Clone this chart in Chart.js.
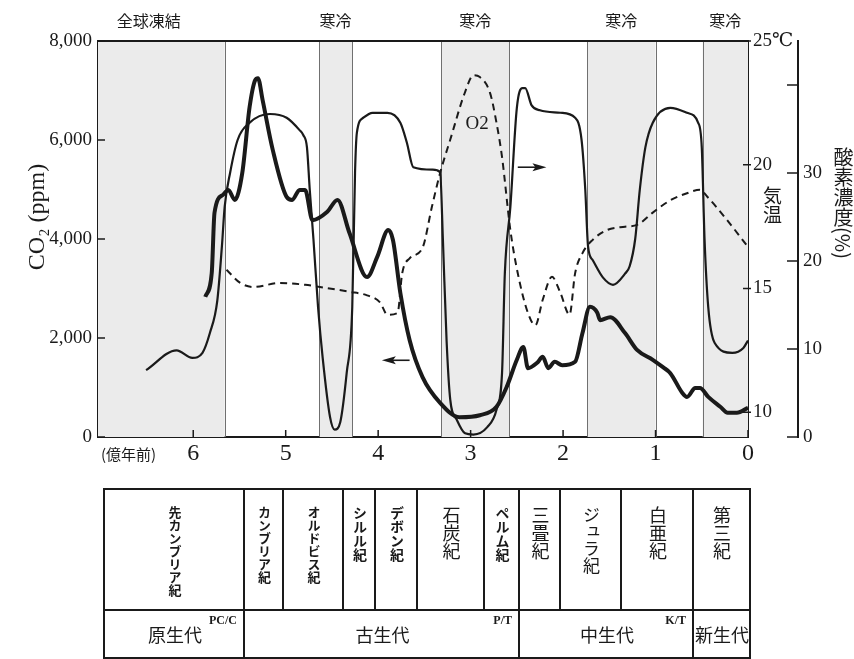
<!DOCTYPE html>
<html lang="ja">
<head>
<meta charset="utf-8">
<title>CO2・気温・酸素濃度の変遷</title>
<script src="https://cdn.jsdelivr.net/npm/chart.js@4.4.1/dist/chart.umd.min.js"></script>
<style>
  body { margin: 0; background: #fff; }
  #wrap { position: relative; width: 854px; height: 659px; overflow: hidden;
          font-family: "Noto Sans CJK JP", sans-serif; color: #1a1a1a; }
  #chart { position: absolute; left: 0; top: 0; }
  .vt { position: absolute; writing-mode: vertical-rl; line-height: 1; white-space: nowrap; }
  .cell { position: absolute; box-sizing: border-box; border-left: 2px solid #1a1a1a; border-top: 2px solid #1a1a1a; }
  .era { display: flex; align-items: center; justify-content: center; font-size: 18px; }
  .code { position: absolute; font-family: "Liberation Serif", serif; font-weight: bold; font-size: 12px; }
</style>
</head>
<body>
<div id="wrap">
  <canvas id="chart" width="854" height="480"></canvas>
  <div class="vt" style="left:763px;top:186px;font-size:19px;">気温</div>
  <div class="vt" style="left:833px;top:147px;font-size:20px;">酸素濃度(%)</div>
  <div style="position:absolute;left:101px;top:443px;font-size:15px;">(億年前)</div>
  <div id="geo"></div>
</div>
<script>
// ages in 100 million years (億年前)
const tempAge = [6.51, 6.18, 6.01, 5.9, 5.82, 5.74, 5.69, 5.66, 5.6, 5.52, 5.39, 5.17, 4.99, 4.85, 4.81, 4.77, 4.74, 4.7, 4.65, 4.6,
  4.52, 4.47, 4.41, 4.34, 4.28, 4.25, 4.23, 4.16, 4.06, 3.9, 3.76, 3.69, 3.62, 3.41, 3.33, 3.3, 3.26, 3.22, 3.15, 3.06,
  2.97, 2.82, 2.72, 2.66, 2.63, 2.57, 2.5, 2.44, 2.41, 2.34, 2.25, 2.03, 1.87, 1.8, 1.76, 1.73, 1.68, 1.57, 1.46, 1.33,
  1.28, 1.22, 1.17, 1.11, 1.03, 0.84, 0.66, 0.54, 0.5, 0.47, 0.43, 0.36, 0.17, 0.05, 0];
const tempC = [11.7, 12.5, 12.2, 12.4, 13.2, 14.5, 16.7, 18.3, 19.7, 21.0, 21.7, 22.05, 21.9, 21.4, 21.2, 20.7, 19.0, 17.0, 14.25, 12.2,
  9.8, 9.3, 9.6, 11.6, 14.25, 19.7, 21.3, 21.9, 22.1, 22.1, 21.7, 20.9, 19.9, 19.8, 19.7, 17.0, 12.9, 10.5, 9.7, 9.15,
  9.1, 9.4, 10.1, 11.6, 15.6, 18.3, 22.3, 23.1, 23.1, 22.4, 22.2, 22.1, 21.9, 21.0, 19.0, 16.7, 16.15, 15.45, 15.15, 15.6,
  15.9, 17.0, 19.0, 20.7, 21.7, 22.3, 22.1, 21.7, 20.7, 17.0, 14.25, 12.8, 12.4, 12.6, 12.9];

const co2Age = [5.87, 5.8, 5.77, 5.68, 5.62, 5.55, 5.47, 5.39, 5.33, 5.3, 5.25, 5.14, 4.99, 4.93, 4.85, 4.79, 4.71, 4.55, 4.44, 4.31,
  4.12, 4.01, 3.89, 3.84, 3.76, 3.66, 3.52, 3.33, 3.12, 2.9, 2.72, 2.61, 2.5, 2.43, 2.38, 2.28, 2.22, 2.16, 2.09, 2.01,
  1.87, 1.79, 1.71, 1.63, 1.6, 1.49, 1.33, 1.2, 1.03, 0.92, 0.84, 0.71, 0.66, 0.57, 0.52, 0.43, 0.3, 0.22, 0.12, 0];
const co2Ppm = [2830, 3310, 4530, 4890, 4990, 4790, 5330, 6670, 7210, 7250, 6810, 5800, 4850, 4790, 4990, 4990, 4380, 4550, 4790, 4120,
  3230, 3640, 4180, 3980, 2910, 1960, 1210, 690, 400, 440, 610, 1010, 1560, 1820, 1390, 1500, 1620, 1390, 1520, 1450,
  1520, 2100, 2630, 2510, 2360, 2420, 2100, 1760, 1560, 1410, 1290, 890, 810, 990, 990, 810, 610, 490, 490, 590];

const o2Age = [5.64, 5.49, 5.35, 5.06, 4.79, 4.63, 4.31, 4.12, 3.98, 3.9, 3.79, 3.74, 3.66, 3.52, 3.42, 3.33, 3.22, 3.06, 2.97, 2.9,
  2.79, 2.72, 2.66, 2.57, 2.49, 2.38, 2.3, 2.22, 2.12, 2.03, 1.93, 1.87, 1.79, 1.68, 1.53, 1.33, 1.2, 1.03, 0.84, 0.66,
  0.52, 0.44, 0.23, 0];
const o2Pct = [19.0, 17.5, 17.05, 17.5, 17.3, 17.05, 16.5, 16.1, 15.3, 13.9, 14.1, 18.6, 20.3, 21.5, 26.1, 30.0, 33.8, 39.2, 41.1, 40.9,
  39.1, 35.7, 31.8, 23.5, 18.6, 14.1, 12.7, 15.6, 18.2, 16.4, 13.9, 18.6, 20.9, 22.4, 23.5, 23.9, 24.1, 25.5, 26.9, 27.7,
  28.1, 27.3, 24.7, 21.6];

// cold periods (shaded) and their labels
const coldBands = [[7.03, 5.66], [4.64, 4.28], [3.32, 2.58], [1.74, 1.0], [0.49, 0]];
const coldLabels = ['全球凍結', '寒冷', '寒冷', '寒冷', '寒冷'];
const coldLabelAge = [6.48, 4.46, 2.95, 1.37, 0.245];

const xTicks = [0, 1, 2, 3, 4, 5, 6];
const co2Ticks = [0, 2000, 4000, 6000, 8000];
const tempTicks = [10, 15, 20, 25];
const o2Ticks = [0, 10, 20, 30, 40];

// geologic time table
const periodNames = ['先カンブリア紀', 'カンブリア紀', 'オルドビス紀', 'シルル紀', 'デボン紀', '石炭紀', 'ペルム紀', '三畳紀', 'ジュラ紀', '白亜紀', '第三紀'];
const periodEdges = [6.98, 5.46, 5.04, 4.39, 4.04, 3.59, 2.87, 2.49, 2.04, 1.38, 0.61, 0];
const eraNames = ['原生代', '古生代', '中生代', '新生代'];
const eraEdges = [6.98, 5.46, 2.49, 0.61, 0];
const eraCodes = ['PC/C', 'P/T', 'K/T'];

const serif = '"Liberation Serif", "DejaVu Serif", serif';
const cjk = '"Noto Sans CJK JP", sans-serif';
const ink = '#1a1a1a';

const pts = (xs, ys) => xs.map((v, i) => ({ x: v, y: ys[i] }));

function seg(ctx, x1, y1, x2, y2) {
  ctx.beginPath(); ctx.moveTo(x1, y1); ctx.lineTo(x2, y2); ctx.stroke();
}
function arrow(ctx, x1, y, x2) {
  const d = Math.sign(x2 - x1);
  seg(ctx, x1, y, x2 - d * 6, y);
  ctx.beginPath();
  ctx.moveTo(x2, y); ctx.lineTo(x2 - d * 14, y - 4); ctx.lineTo(x2 - d * 11, y); ctx.lineTo(x2 - d * 14, y + 4);
  ctx.closePath(); ctx.fill();
}

const decor = {
  id: 'decor',
  beforeDatasetsDraw(chart) {
    const { ctx, chartArea: a, scales: { x } } = chart;
    ctx.save();
    ctx.fillStyle = '#ebebeb';
    coldBands.forEach(([from, to]) => {
      const x1 = x.getPixelForValue(from), x2 = x.getPixelForValue(to);
      ctx.fillRect(Math.min(x1, x2), a.top, Math.abs(x2 - x1), a.bottom - a.top);
    });
    ctx.strokeStyle = '#707070';
    ctx.lineWidth = 1;
    coldBands.flat().filter(v => v > 0 && v < 7).forEach(v => {
      const px = Math.round(x.getPixelForValue(v)) + 0.5;
      seg(ctx, px, a.top, px, a.bottom);
    });
    ctx.restore();
  },
  afterDraw(chart) {
    const { ctx, chartArea: a, scales: { x, y, yT, yO } } = chart;
    ctx.save();
    ctx.strokeStyle = ink; ctx.fillStyle = ink;
    ctx.lineWidth = 2;
    seg(ctx, a.left - 1, a.top, a.right + 1, a.top);
    // inward tick marks
    ctx.lineWidth = 1.5;
    x.ticks.forEach(t => { const p = x.getPixelForValue(t.value); seg(ctx, p, a.bottom, p, a.bottom - 7); });
    y.ticks.forEach(t => { const p = y.getPixelForValue(t.value); seg(ctx, a.left, p, a.left + 7, p); });
    yT.ticks.forEach(t => { const p = yT.getPixelForValue(t.value); seg(ctx, a.right - 5, p, a.right + 3, p); });
    yO.ticks.forEach(t => { const p = yO.getPixelForValue(t.value); seg(ctx, yO.left, p, yO.left - 11, p); });
    // CO2 axis title
    ctx.save();
    ctx.translate(38, 217);
    ctx.rotate(-Math.PI / 2);
    ctx.font = '24px ' + serif;
    ctx.textAlign = 'center'; ctx.textBaseline = 'middle';
    ctx.fillText('CO₂ (ppm)', 0, 0);
    ctx.restore();
    // cold period labels
    ctx.font = '16px ' + cjk;
    ctx.textAlign = 'center'; ctx.textBaseline = 'middle';
    coldLabels.forEach((s, i) => ctx.fillText(s, x.getPixelForValue(coldLabelAge[i]), 21));
    // O2 label and axis arrows
    ctx.font = '19px ' + serif;
    ctx.fillText('O2', x.getPixelForValue(2.93), yO.getPixelForValue(35.6));
    ctx.lineWidth = 1.6;
    arrow(ctx, x.getPixelForValue(2.49), yT.getPixelForValue(19.9), x.getPixelForValue(2.18));
    arrow(ctx, x.getPixelForValue(3.66), y.getPixelForValue(1550), x.getPixelForValue(3.96));
    ctx.restore();
  }
};

const axisBase = {
  grid: { display: true, drawOnChartArea: false, drawTicks: false },
  border: { display: true, color: ink, width: 2 }
};

const chart = new Chart(document.getElementById('chart'), {
  type: 'line',
  data: {
    datasets: [
      { label: 'CO2', data: pts(co2Age, co2Ppm), yAxisID: 'y', borderColor: ink, borderWidth: 4 },
      { label: '気温', data: pts(tempAge, tempC), yAxisID: 'yT', borderColor: ink, borderWidth: 2.2 },
      { label: 'O2', data: pts(o2Age, o2Pct), yAxisID: 'yO', borderColor: ink, borderWidth: 2, borderDash: [7, 5] }
    ]
  },
  options: {
    responsive: false,
    animation: false,
    layout: { padding: { top: 41, left: 0, right: 0, bottom: 0 } },
    elements: { point: { radius: 0 }, line: { cubicInterpolationMode: 'monotone' } },
    plugins: { legend: { display: false }, tooltip: { enabled: false } },
    scales: {
      x: {
        ...axisBase,
        type: 'linear', reverse: true, min: 0, max: 7.03,
        afterBuildTicks: s => { s.ticks = xTicks.map(v => ({ value: v })); },
        afterFit: s => { s.height = 43; },
        ticks: { font: { family: serif, size: 24 }, color: ink, padding: 2, maxRotation: 0, autoSkip: false }
      },
      y: {
        ...axisBase,
        position: 'left', min: 0, max: 8000,
        afterBuildTicks: s => { s.ticks = co2Ticks.map(v => ({ value: v })); },
        afterFit: s => { s.width = 98; },
        ticks: { font: { family: serif, size: 19 }, color: ink, padding: 6, callback: v => v.toLocaleString('en-US') }
      },
      yT: {
        ...axisBase,
        position: 'right', weight: 0, min: 9, max: 25,
        afterBuildTicks: s => { s.ticks = tempTicks.map(v => ({ value: v })); },
        afterFit: s => { s.width = 50; },
        ticks: { font: { family: serif, size: 19 }, color: ink, padding: 5, callback: v => v === 25 ? '25℃' : v }
      },
      yO: {
        ...axisBase,
        position: 'right', weight: 1, min: 0, max: 45,
        afterBuildTicks: s => { s.ticks = o2Ticks.map(v => ({ value: v })); },
        afterFit: s => { s.width = 56; },
        ticks: { font: { family: serif, size: 19 }, color: ink, padding: 5, callback: v => v === 40 ? '' : v }
      }
    }
  },
  plugins: [decor]
});

// table of geologic periods, columns placed on the same age axis
(function buildTable() {
  const x = chart.scales.x;
  const px = v => Math.round(x.getPixelForValue(v));
  const geo = document.getElementById('geo');
  const top = 488, mid = 609, bottom = 657;
  const add = (html, css, cls) => {
    const d = document.createElement('div');
    d.className = cls || '';
    d.style.cssText = css;
    d.innerHTML = html;
    geo.appendChild(d);
    return d;
  };
  const right = px(periodEdges[periodEdges.length - 1]) + 1;
  periodNames.forEach((name, i) => {
    const l = px(periodEdges[i]), r = px(periodEdges[i + 1]);
    const fs = name.length >= 5 ? 13 : (name.length === 4 ? (r - l < 50 ? 14 : 17) : 18);
    const cell = add('', `left:${l}px;top:${top}px;width:${r - l + 2}px;height:${mid - top + 2}px;`, 'cell');
    const t = document.createElement('div');
    t.className = 'vt';
    t.style.cssText = `left:50%;top:16px;transform:translateX(-50%);font-size:${fs}px;font-weight:${fs < 17 ? 'bold' : 'normal'};`;
    t.textContent = name;
    cell.appendChild(t);
  });
  eraNames.forEach((name, i) => {
    const l = px(eraEdges[i]), r = px(eraEdges[i + 1]);
    add(name, `left:${l}px;top:${mid}px;width:${r - l + 2}px;height:${bottom - mid}px;`, 'cell era');
  });
  eraCodes.forEach((code, i) => {
    const r = px(eraEdges[i + 1]);
    add(code, `left:${r - 60}px;width:54px;text-align:right;top:${mid + 4}px;`, 'code');
  });
  add('', `position:absolute;left:${right}px;top:${top}px;width:0;height:${bottom - top + 2}px;border-left:2px solid #1a1a1a;`);
  add('', `position:absolute;left:${px(periodEdges[0])}px;top:${bottom}px;width:${right - px(periodEdges[0]) + 2}px;height:0;border-top:2px solid #1a1a1a;`);
})();
</script>
</body>
</html>
